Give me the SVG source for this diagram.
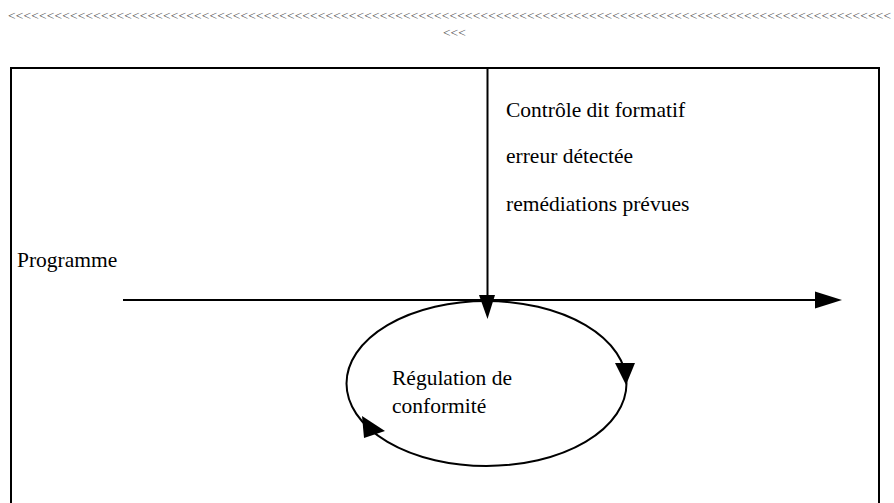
<svg xmlns="http://www.w3.org/2000/svg" width="894" height="503" viewBox="0 0 894 503">
<style>
.t{font-size:21.5px;fill:#000}
.lt{font-size:13.5px;fill:#555}
.ln{stroke:#000;stroke-width:2;fill:none}
.ah{fill:#000;stroke:none}
</style>
<rect width="894" height="503" fill="#fff"/>
<g id="header" font-family="'Liberation Serif', 'DejaVu Serif', 'Times New Roman', serif">
<text class="lt" x="8" y="20" textLength="883" lengthAdjust="spacing">&lt;&lt;&lt;&lt;&lt;&lt;&lt;&lt;&lt;&lt;&lt;&lt;&lt;&lt;&lt;&lt;&lt;&lt;&lt;&lt;&lt;&lt;&lt;&lt;&lt;&lt;&lt;&lt;&lt;&lt;&lt;&lt;&lt;&lt;&lt;&lt;&lt;&lt;&lt;&lt;&lt;&lt;&lt;&lt;&lt;&lt;&lt;&lt;&lt;&lt;&lt;&lt;&lt;&lt;&lt;&lt;&lt;&lt;&lt;&lt;&lt;&lt;&lt;&lt;&lt;&lt;&lt;&lt;&lt;&lt;&lt;&lt;&lt;&lt;&lt;&lt;&lt;&lt;&lt;&lt;&lt;&lt;&lt;&lt;&lt;&lt;&lt;&lt;&lt;&lt;&lt;&lt;&lt;&lt;&lt;&lt;&lt;&lt;&lt;&lt;&lt;&lt;&lt;&lt;&lt;&lt;&lt;&lt;&lt;&lt;&lt;&lt;&lt;&lt;</text>
<text class="lt" x="443" y="37">&lt;&lt;&lt;</text>
</g>
<g id="frame">
<rect class="ln" x="11" y="68" width="868" height="460"/>
</g>
<g id="connectors">
<line class="ln" x1="123" y1="300" x2="818" y2="300"/>
<polygon class="ah" points="815,291.5 842,300 815,308.5"/>
<line class="ln" x1="487.5" y1="68" x2="487.5" y2="298"/>
<polygon class="ah" points="479,295 495,295 487.5,319"/>
</g>
<g id="loop" font-family="'Liberation Serif', 'DejaVu Serif', 'Times New Roman', serif">
<ellipse class="ln" cx="486.5" cy="383.5" rx="140" ry="82.5"/>
<polygon class="ah" points="615,363 635,363 626,385"/>
<polygon class="ah" points="362,416 364,438 385,431"/>
<text class="t" x="392" y="385">Régulation de</text>
<text class="t" x="392" y="413">conformité</text>
</g>
<g id="control" font-family="'Liberation Serif', 'DejaVu Serif', 'Times New Roman', serif">
<text class="t" x="506" y="117">Contrôle dit formatif</text>
<text class="t" x="506" y="163">erreur détectée</text>
<text class="t" x="506" y="211">remédiations prévues</text>
</g>
<g id="programme" font-family="'Liberation Serif', 'DejaVu Serif', 'Times New Roman', serif">
<text class="t" x="17" y="267">Programme</text>
</g>
</svg>
